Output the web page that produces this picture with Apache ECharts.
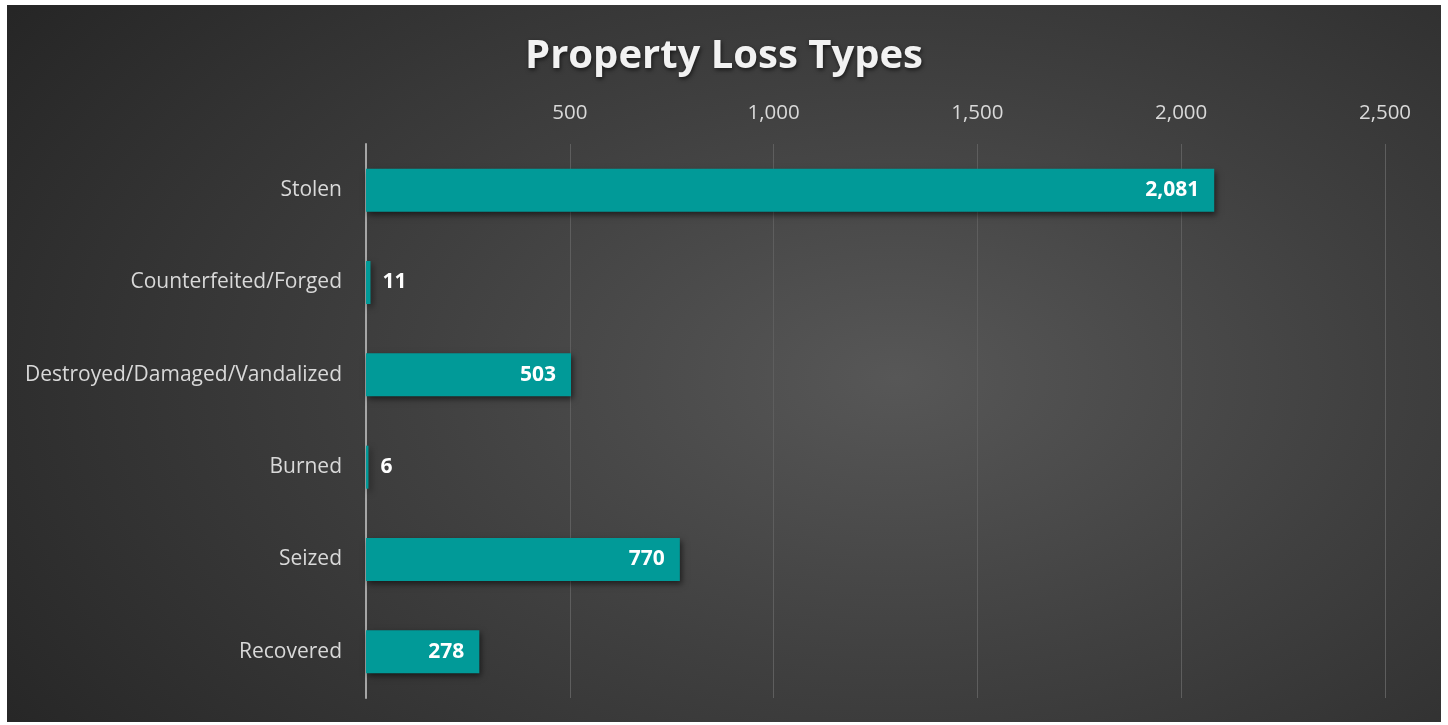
<!DOCTYPE html>
<html>
<head>
<meta charset="utf-8">
<script src="https://cdn.jsdelivr.net/npm/echarts@6/dist/echarts.min.js"></script>
<style>
html,body{margin:0;padding:0;background:#ffffff;width:1448px;height:725px;overflow:hidden;}
#chart{position:absolute;left:7px;top:5px;width:1434px;height:717px;
background:radial-gradient(ellipse 75% 90% at 62% 52%, #575757 0%, #404040 45%, #262626 100%);}
</style>
</head>
<body>
<div id="chart"></div>
<script>
const categories = ["Stolen","Counterfeited/Forged","Destroyed/Damaged/Vandalized","Burned","Seized","Recovered"];
const values = [2081, 11, 503, 6, 770, 278];
const tickMin = 0, tickMax = 2500, tickStep = 500;
const title = "Property Loss Types";

const fontFam = "'Open Sans','Noto Sans',sans-serif";
const chart = echarts.init(document.getElementById('chart'), null, {renderer:'canvas'});
const data = values.map(v => {
  const small = v < 100;
  return {
    value: v,
    label: small
      ? {position:'right', distance: 12}
      : {position:'insideRight', distance: 15}
  };
});
chart.setOption({
  backgroundColor: 'transparent',
  title: {
    text: title, left: 'center', top: 27,
    textStyle: {color:'#f2f2f2', fontSize: 40, fontWeight:'bold', fontFamily: fontFam,
      textShadowColor:'rgba(0,0,0,0.6)', textShadowBlur:4, textShadowOffsetX:1, textShadowOffsetY:2}
  },
  grid: {left: 359, right: 56, top: 139, bottom: 24, containLabel:false},
  xAxis: {
    type:'value', position:'top', min: tickMin, max: tickMax, interval: tickStep,
    axisLine:{show:false}, axisTick:{show:false},
    axisLabel:{color:'#d9d9d9', fontSize:20.5, fontFamily: fontFam, margin: 20,
      formatter: v => v === 0 ? '' : v.toLocaleString('en-US')},
    splitLine:{lineStyle:{color:'#5e5e5e', width:1}}
  },
  yAxis: {
    type:'category', data: categories, inverse: true,
    axisLine:{show:true, lineStyle:{color:'#a6a6a6', width:2}},
    axisTick:{show:false},
    axisLabel:{color:'#d9d9d9', fontSize:21, fontFamily: fontFam, margin: 24, padding:[2,0,0,0]}
  },
  series: [{
    type:'bar', data: data, barWidth: 43,
    itemStyle:{color:'#019a98', shadowBlur:6, shadowOffsetX:2, shadowOffsetY:3, shadowColor:'rgba(0,0,0,0.55)'},
    label:{show:true, color:'#ffffff', fontWeight:'bold', fontSize:21, fontFamily: fontFam,
      formatter: p => p.value.toLocaleString('en-US')},
    animation:false
  }],
  animation:false
});
</script>
</body>
</html>
